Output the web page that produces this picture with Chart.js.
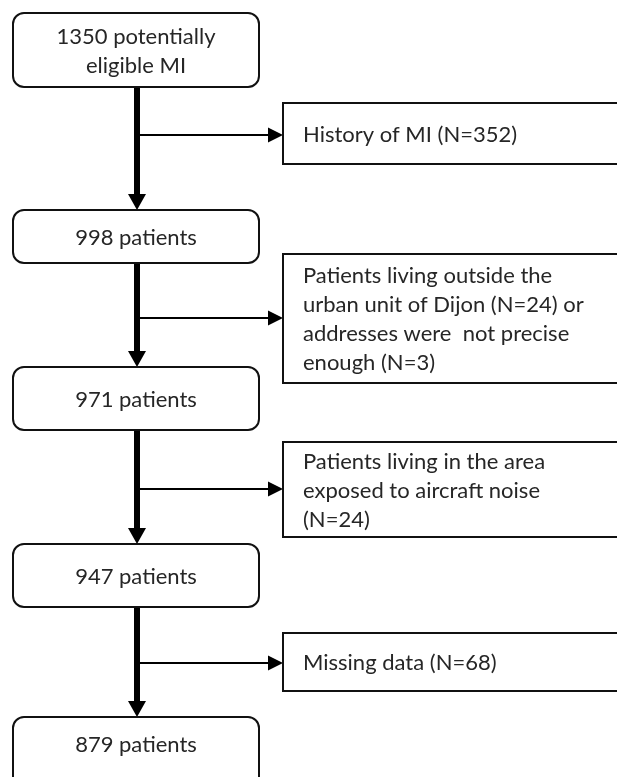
<!DOCTYPE html>
<html>
<head>
<meta charset="utf-8">
<script src="https://cdn.jsdelivr.net/npm/chart.js@4.4.1/dist/chart.umd.min.js"></script>
<style>
  html, body { margin: 0; padding: 0; background: #fff; }
  #wrap { width: 617px; height: 777px; }
</style>
</head>
<body>
<div id="wrap"><canvas id="flow" width="617" height="777"></canvas></div>
<script>
"use strict";

// ── data ─────────────────────────────────────────────
const stageCounts = [1350, 998, 971, 947, 879];
const stageLines = [
  ["1350 potentially", "eligible MI"],
  ["998 patients"],
  ["971 patients"],
  ["947 patients"],
  ["879 patients"],
];
const exclusionCounts = [352, 27, 24, 68];
const exclusionLines = [
  ["History of MI (N=352)"],
  ["Patients living outside the", "urban unit of Dijon (N=24) or", "addresses were  not precise", "enough (N=3)"],
  ["Patients living in the area", "exposed to aircraft noise", "(N=24)"],
  ["Missing data (N=68)"],
];

// ── layout (axis units = px of the 617x777 frame) ──────
const stageTop    = [13, 210, 367, 544, 717];
const stageBottom = [87, 263, 430, 607, 800];
const stageLeft = 13, stageRight = 259, trunkX = 137;
const exclTop    = [103, 254, 442, 633];
const exclBottom = [164, 383, 537, 691];
const branchY    = [135, 318, 489, 663];
const exclLeft = 283, exclRight = 640;

const FONT = "22px Lato, 'Open Sans', sans-serif";
const LINE_H = 29;
const INK = "#111";
const TEXT = "#262626";

function roundRect(ctx, x0, y0, x1, y1, r) {
  ctx.beginPath();
  ctx.moveTo(x0 + r, y0);
  ctx.lineTo(x1 - r, y0);
  ctx.arcTo(x1, y0, x1, y0 + r, r);
  ctx.lineTo(x1, y1 - r);
  ctx.arcTo(x1, y1, x1 - r, y1, r);
  ctx.lineTo(x0 + r, y1);
  ctx.arcTo(x0, y1, x0, y1 - r, r);
  ctx.lineTo(x0, y0 + r);
  ctx.arcTo(x0, y0, x0 + r, y0, r);
  ctx.closePath();
}

const flowPlugin = {
  id: "flow",
  afterDatasetsDraw(chart) {
    const { ctx } = chart;
    const sx = chart.scales.x, sy = chart.scales.y;
    const X = v => sx.getPixelForValue(v);
    const Y = v => sy.getPixelForValue(v);
    ctx.save();

    // trunk segments + arrowheads between stages
    for (let i = 0; i < stageCounts.length - 1; i++) {
      const y0 = Y(stageBottom[i]), y1 = Y(stageTop[i + 1]);
      ctx.strokeStyle = "#000";
      ctx.lineWidth = 6;
      ctx.beginPath();
      ctx.moveTo(X(trunkX), y0);
      ctx.lineTo(X(trunkX), y1 - 14);
      ctx.stroke();
      ctx.fillStyle = "#000";
      ctx.beginPath();
      ctx.moveTo(X(trunkX) - 9, y1 - 16);
      ctx.lineTo(X(trunkX) + 9, y1 - 16);
      ctx.lineTo(X(trunkX), y1);
      ctx.closePath();
      ctx.fill();

      // branch to exclusion box
      const by = Y(branchY[i]);
      ctx.lineWidth = 2;
      ctx.beginPath();
      ctx.moveTo(X(trunkX), by);
      ctx.lineTo(X(exclLeft) - 14, by);
      ctx.stroke();
      ctx.beginPath();
      ctx.moveTo(X(exclLeft) - 15, by - 7.5);
      ctx.lineTo(X(exclLeft) - 15, by + 7.5);
      ctx.lineTo(X(exclLeft), by);
      ctx.closePath();
      ctx.fill();
    }

    ctx.font = FONT;
    ctx.textBaseline = "middle";

    // stage boxes
    stageCounts.forEach((n, i) => {
      const x0 = X(stageLeft), x1 = X(stageRight);
      const y0 = Y(stageTop[i]), y1 = Y(stageBottom[i]);
      roundRect(ctx, x0, y0, x1, y1, 11);
      ctx.fillStyle = "#fff";
      ctx.fill();
      ctx.strokeStyle = INK;
      ctx.lineWidth = 2;
      ctx.stroke();
      const lines = stageLines[i];
      const visBottom = Math.min(y1, chart.height);
      const midY = i === stageCounts.length - 1 ? y0 + 27 : (y0 + visBottom) / 2;
      ctx.fillStyle = TEXT;
      ctx.textAlign = "center";
      lines.forEach((t, k) => {
        ctx.fillText(t, (x0 + x1) / 2, midY + 1 + (k - (lines.length - 1) / 2) * LINE_H);
      });
    });

    // exclusion boxes
    exclusionCounts.forEach((n, i) => {
      const x0 = X(exclLeft), x1 = X(exclRight);
      const y0 = Y(exclTop[i]), y1 = Y(exclBottom[i]);
      ctx.fillStyle = "#fff";
      ctx.fillRect(x0, y0, x1 - x0, y1 - y0);
      ctx.strokeStyle = INK;
      ctx.lineWidth = 2;
      ctx.strokeRect(x0, y0, x1 - x0, y1 - y0);
      const lines = exclusionLines[i];
      const midY = (y0 + y1) / 2;
      ctx.fillStyle = TEXT;
      ctx.textAlign = "left";
      lines.forEach((t, k) => {
        ctx.fillText(t, x0 + 20, midY + 1 + (k - (lines.length - 1) / 2) * LINE_H);
      });
    });

    ctx.restore();
  },
};

new Chart(document.getElementById("flow"), {
  type: "scatter",
  data: {
    datasets: [{
      data: stageCounts.map((n, i) => ({ x: trunkX, y: (stageTop[i] + Math.min(stageBottom[i], 777)) / 2 })),
      pointRadius: 0,
      showLine: false,
    }],
  },
  options: {
    responsive: false,
    animation: false,
    events: [],
    layout: { padding: 0 },
    plugins: { legend: { display: false }, tooltip: { enabled: false } },
    scales: {
      x: { type: "linear", min: 0, max: 617, display: false },
      y: { type: "linear", min: 0, max: 777, reverse: true, display: false },
    },
  },
  plugins: [flowPlugin],
});
</script>
</body>
</html>
